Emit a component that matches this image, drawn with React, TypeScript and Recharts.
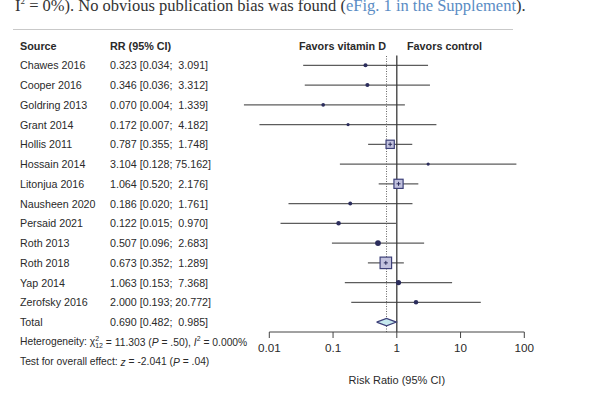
import React from 'react';
import { ScatterChart, Scatter, XAxis, YAxis, ReferenceLine } from 'recharts';

// Study rows
const studies = [
  'Chawes 2016', 'Cooper 2016', 'Goldring 2013', 'Grant 2014', 'Hollis 2011',
  'Hossain 2014', 'Litonjua 2016', 'Nausheen 2020', 'Persaid 2021', 'Roth 2013',
  'Roth 2018', 'Yap 2014', 'Zerofsky 2016',
];
const rr = [0.323, 0.346, 0.07, 0.172, 0.787, 3.104, 1.064, 0.186, 0.122, 0.507, 0.673, 1.063, 2.0];
const ciLow = [0.034, 0.036, 0.004, 0.007, 0.355, 0.128, 0.52, 0.02, 0.015, 0.096, 0.352, 0.153, 0.193];
const ciHigh = [3.091, 3.312, 1.339, 4.182, 1.748, 75.162, 2.176, 1.761, 0.97, 2.683, 1.289, 7.368, 20.772];
// approximate study weights (%), judged from marker size
const weights = [2.5, 2.5, 2, 1.5, 17, 1.5, 21, 2.3, 3, 5, 33, 4, 3];

// pooled estimate
const totalRR = 0.69;
const totalLow = 0.482;
const totalHigh = 0.985;

const xTicks = [0.01, 0.1, 1, 10, 100];

const fmt = (v: number) => v.toFixed(3);
// pad the upper bound so the columns line up like the original (nbsp, so it doesn't collapse)
const ciText = (est: number, lo: number, hi: number) =>
  `${fmt(est)} [${fmt(lo)};\u00a0${fmt(hi).padStart(6, '\u00a0')}]`;

const studyRows = studies.map((name, i) => ({ x: rr[i], y: i + 1, w: weights[i], name }));
const totalRow = studies.length + 1;
const diamond = [
  { x: totalLow, y: totalRow },
  { x: totalRR, y: totalRow - 0.19 },
  { x: totalHigh, y: totalRow },
  { x: totalRR, y: totalRow + 0.19 },
  { x: totalLow, y: totalRow },
];
const rowTicks = Array.from({ length: totalRow + 3 }, (_, i) => i);

const FONT = '"Liberation Sans", Arial, Helvetica, sans-serif';
const INK = '#2a2a2a';

const StudyMarker = (props: any) => {
  const { cx, cy, payload } = props;
  if (cx == null || cy == null) return <g />;
  const w = payload.w;
  if (w < 10) {
    return <circle cx={cx} cy={cy} r={1.3 * Math.sqrt(w)} fill="#2b2d5c" />;
  }
  const s = 2 * Math.sqrt(w);
  return (
    <g>
      <rect x={cx - s / 2} y={cy - s / 2} width={s} height={s} fill="#c2c2de" stroke="#3d4079" strokeWidth={1.2} />
      <path d={`M${cx - 2},${cy}H${cx + 2}M${cx},${cy - 2}V${cy + 2}`} stroke="#2b2d5c" strokeWidth={1} />
    </g>
  );
};

const RowTick = (props: any) => {
  const { y, payload } = props;
  const i = payload.value as number;
  const base = { fontFamily: FONT, fill: INK, dominantBaseline: 'central' as const };
  if (i === 0) {
    return (
      <g style={{ fontWeight: 'bold', fontSize: 10.8 }}>
        <text x={20} y={y} {...base}>Source</text>
        <text x={110} y={y} {...base}>RR (95% CI)</text>
        <text x={386} y={y} textAnchor="end" {...base}>Favors vitamin D</text>
        <text x={407} y={y} {...base}>Favors control</text>
      </g>
    );
  }
  if (i <= studies.length) {
    const k = i - 1;
    return (
      <g style={{ fontSize: 10.7 }}>
        <text x={20} y={y} {...base}>{studies[k]}</text>
        <text x={110} y={y} {...base}>{ciText(rr[k], ciLow[k], ciHigh[k])}</text>
      </g>
    );
  }
  if (i === totalRow) {
    return (
      <g style={{ fontSize: 10.7 }}>
        <text x={20} y={y} {...base}>Total</text>
        <text x={110} y={y} {...base}>{ciText(totalRR, totalLow, totalHigh)}</text>
      </g>
    );
  }
  if (i === totalRow + 1) {
    return (
      <text x={20} y={y} {...base} style={{ fontSize: 10.3 }}>
        Heterogeneity: χ
        <tspan dy={-4} fontSize={7}>2</tspan>
        <tspan dx={-4} dy={7} fontSize={7}>12</tspan>
        <tspan dy={-3}> = 11.303 (</tspan>
        <tspan fontStyle="italic">P</tspan>
        <tspan> = .50), </tspan>
        <tspan fontStyle="italic">I</tspan>
        <tspan dy={-4} fontSize={7}>2</tspan>
        <tspan dy={4}> = 0.000%</tspan>
      </text>
    );
  }
  return (
    <text x={20} y={y} {...base} style={{ fontSize: 10.3 }}>
      Test for overall effect: <tspan fontStyle="italic">z</tspan> = -2.041 (
      <tspan fontStyle="italic">P</tspan> = .04)
    </text>
  );
};

export default function App() {
  return (
    <div style={{ position: 'absolute', left: 0, top: 0, width: 600, height: 394, background: '#fff', overflow: 'hidden' }}>
      <div
        style={{
          position: 'absolute', left: 15, top: -9, whiteSpace: 'nowrap',
          fontFamily: '"Liberation Serif", "DejaVu Serif", serif', fontSize: 16.5, lineHeight: '20px', color: '#333',
        }}
      >
        I<sup style={{ fontSize: 9 }}>2</sup> = 0%). No obvious publication bias was found (
        <span style={{ color: '#5a8cc4' }}>eFig. 1 in the Supplement</span>).
      </div>
      <div style={{ position: 'absolute', left: 13, top: 29, width: 500, height: 1, background: '#c9c9c9' }} />
      <div style={{ position: 'absolute', left: 0, top: 0 }}>
        <ScatterChart width={600} height={394} margin={{ top: 55.4, right: 75.7, bottom: 0, left: 0 }}>
          <XAxis
            type="number"
            dataKey="x"
            scale="log"
            domain={[0.01, 100]}
            ticks={xTicks}
            allowDataOverflow
            height={62}
            stroke="#444"
            tickSize={6}
            tickMargin={6}
            tick={{ fill: INK, fontSize: 11.7, fontFamily: FONT }}
            label={{ value: 'Risk Ratio (95% CI)', position: 'insideBottom', offset: 10, fill: INK, fontSize: 11, fontFamily: FONT }}
          />
          <YAxis
            type="number"
            dataKey="y"
            domain={[0.5, totalRow + 0.5]}
            reversed
            allowDataOverflow
            ticks={rowTicks}
            interval={0}
            width={269.3}
            axisLine={false}
            tickLine={false}
            tick={<RowTick />}
          />
          {studyRows.map((r, i) => (
            <ReferenceLine
              key={r.name}
              segment={[{ x: ciLow[i], y: r.y }, { x: ciHigh[i], y: r.y }]}
              stroke="#5c5c5c"
              strokeWidth={1.3}
              ifOverflow="visible"
            />
          ))}
          <ReferenceLine x={1} stroke="#3a3a3a" strokeWidth={1.3} />
          <ReferenceLine x={totalRR} stroke="#666" strokeWidth={1} strokeDasharray="1 1.5" />
          <Scatter data={studyRows} shape={<StudyMarker />} isAnimationActive={false} />
          <Scatter
            data={diamond}
            shape={() => <g />}
            line={{ stroke: '#3d4079', strokeWidth: 1.2, fill: '#c6e9ee' }}
            lineJointType="linear"
            isAnimationActive={false}
          />
        </ScatterChart>
      </div>
    </div>
  );
}
